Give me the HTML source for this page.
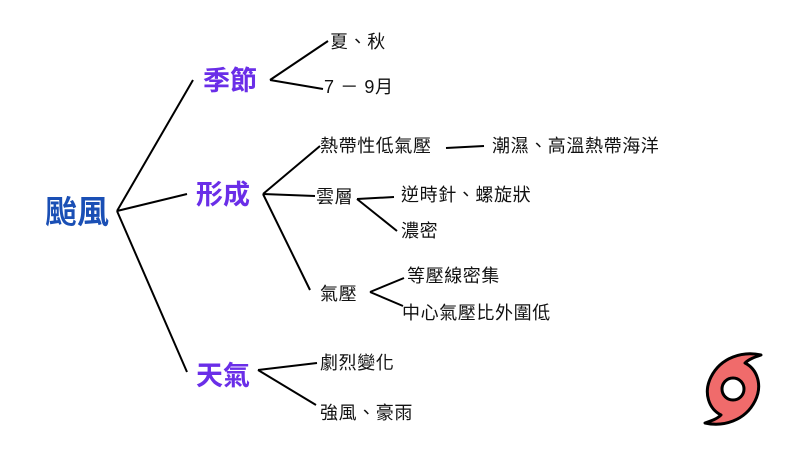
<!DOCTYPE html>
<html><head><meta charset="utf-8"><style>
body{margin:0;background:#fff;}
svg{display:block}
text{font-family:"Liberation Sans","Noto Sans CJK TC",sans-serif;}
.s{font-size:18px;fill:#111;dominant-baseline:central;letter-spacing:0.6px}
.m{font-size:27px;font-weight:bold;fill:#6a2ee8;dominant-baseline:central}
</style></head><body>
<svg width="800" height="450" viewBox="0 0 800 450">
<g stroke="#000" stroke-width="2" fill="none">
<path d="M117,211 L193,80 M117,211 L187,194 M117,211 L187,372"/>
<path d="M270,80 L328,41 M270,80 L323,89"/>
<path d="M263,194 L320,146 M263,194 L315,196 M263,194 L310,290"/>
<path d="M446,148 L484,146"/>
<path d="M357,199 L394,197 M357,199 L397,231"/>
<path d="M370,292 L404,278 M370,292 L403,306"/>
<path d="M258,370 L317,363 M258,370 L316,405"/>
</g>
<text x="45" y="212" style="font-size:32px;font-weight:bold;fill:#1a4fb5;dominant-baseline:central">颱風</text>
<text x="203" y="81" class="m">季節</text>
<text x="196" y="195" class="m">形成</text>
<text x="196" y="376" class="m">天氣</text>
<text x="330" y="42" class="s">夏、秋</text>
<text x="324" y="87" class="s">7 － 9月</text>
<text x="320" y="146" class="s">熱帶性低氣壓</text>
<text x="492" y="146" class="s">潮濕、高溫熱帶海洋</text>
<text x="316" y="197" class="s">雲層</text>
<text x="401" y="195" class="s">逆時針、螺旋狀</text>
<text x="401" y="231" class="s">濃密</text>
<text x="320" y="294" class="s">氣壓</text>
<text x="407" y="276" class="s">等壓線密集</text>
<text x="402" y="313" class="s">中心氣壓比外圍低</text>
<text x="320" y="363" class="s">劇烈變化</text>
<text x="320" y="413" class="s">強風、豪雨</text>
<g transform="translate(733,389)">
<path d="M28,-34 C10,-38 -12,-32 -22,-12 C-30,4 -24,20 -12,26 C-16,30 -22,32 -28,34 C-10,38 12,32 22,12 C30,-4 24,-20 12,-26 C16,-30 22,-32 28,-34 Z" fill="#f06b6b" stroke="#000" stroke-width="3" stroke-linejoin="round"/>
<circle cx="0" cy="0" r="11" fill="#fff" stroke="#000" stroke-width="3"/>
</g>
</svg>
</body></html>
